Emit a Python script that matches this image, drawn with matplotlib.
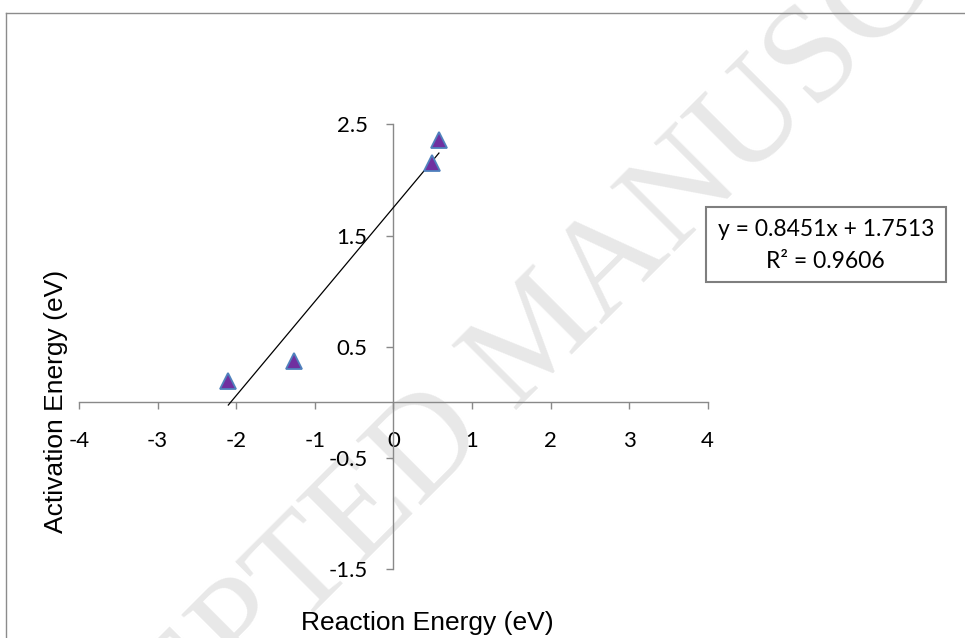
import matplotlib
matplotlib.use("Agg")
import matplotlib.pyplot as plt
from matplotlib.lines import Line2D
from matplotlib.patches import Rectangle
import numpy as np

# Reaction energy vs. activation energy (eV)
reaction_energy = [-2.10, -1.27, 0.49, 0.58]
activation_energy = [0.19, 0.37, 2.15, 2.36]

# Linear trendline reported on the chart
fit_slope = 0.8451
fit_intercept = 1.7513
fit_r2 = 0.9606

x_ticks = [-4, -3, -2, -1, 0, 1, 2, 3, 4]
y_ticks = [-1.5, -0.5, 0.5, 1.5, 2.5]

W, H = 965, 638
fig = plt.figure(figsize=(W / 100, H / 100), dpi=100)


def fx(px):
    return px / W


def fy(py):
    return 1 - py / H


axis_grey = "#898989"
tick_font = "Lato"

ax = fig.add_axes([fx(79), fy(569.3), fx(707.7) - fx(79), fy(124.3) - fy(569.3)])
ax.patch.set_visible(False)
ax.set_xlim(-4, 4)
ax.set_ylim(-1.5, 2.5)

for side in ("top", "right"):
    ax.spines[side].set_visible(False)
ax.spines["left"].set_position(("data", 0))
ax.spines["bottom"].set_position(("data", 0))
for side in ("left", "bottom"):
    ax.spines[side].set_color(axis_grey)
    ax.spines[side].set_linewidth(1.0)

ax.set_xticks(x_ticks)
ax.set_xticklabels([f"{t:g}" for t in x_ticks])
ax.set_yticks(y_ticks)
ax.set_yticklabels([f"{t:g}" for t in y_ticks])
ax.tick_params(axis="both", direction="out", length=5, width=1.0, color=axis_grey,
               labelsize=16, labelcolor="black")
ax.tick_params(axis="x", pad=15.5)
ax.tick_params(axis="y", pad=13.5)
for lbl in ax.get_xticklabels() + ax.get_yticklabels():
    lbl.set_family(tick_font)

# Data points
ax.plot(reaction_energy, activation_energy, linestyle="none", marker="^",
        markersize=11.5, markerfacecolor="#7030A0", markeredgecolor="#4F81BD",
        markeredgewidth=1.3, zorder=4, clip_on=False)

# Trendline over the data range
x_fit = np.array([min(reaction_energy), max(reaction_energy)])
ax.plot(x_fit, fit_slope * x_fit + fit_intercept, color="black", linewidth=0.9, zorder=3)

# Axis titles
fig.text(fx(427), fy(630), "Reaction Energy (eV)", family="Liberation Sans",
         fontsize=19, ha="center", va="baseline")
fig.text(fx(63), fy(401), "Activation Energy (eV)", family="Liberation Sans",
         fontsize=19, ha="center", va="baseline", rotation=90, rotation_mode="anchor")

# Trendline equation box
fig.patches.append(Rectangle((fx(705.7), fy(281.7)), fx(945.7) - fx(705.7),
                             fy(207.3) - fy(281.7), transform=fig.transFigure,
                             facecolor="white", edgecolor="#7f7f7f", linewidth=1.5,
                             zorder=2))
fig.text(fx(825.7), fy(230), f"y = {fit_slope:.4f}x + {fit_intercept:.4f}",
         family=tick_font, fontsize=16.5, ha="center", va="center", zorder=3)
fig.text(fx(825.7), fy(262), f"R² = {fit_r2:.4f}",
         family=tick_font, fontsize=16.5, ha="center", va="center", zorder=3)

# Chart area border
fig.lines.append(Line2D([fx(6), 1.0], [fy(13), fy(13)], transform=fig.transFigure,
                        color="#8c8c8c", linewidth=1.0))
fig.lines.append(Line2D([fx(6), fx(6)], [fy(13), 0.0], transform=fig.transFigure,
                        color="#8c8c8c", linewidth=1.0))

# Manuscript watermark
fig.text(fx(565), fy(362), "ACCEPTED MANUSCRIPT", family="Liberation Serif",
         fontsize=100, color="#e8e8e8", ha="center", va="baseline",
         rotation=45, rotation_mode="anchor", zorder=-1)

fig.savefig("out.png", dpi=100)
